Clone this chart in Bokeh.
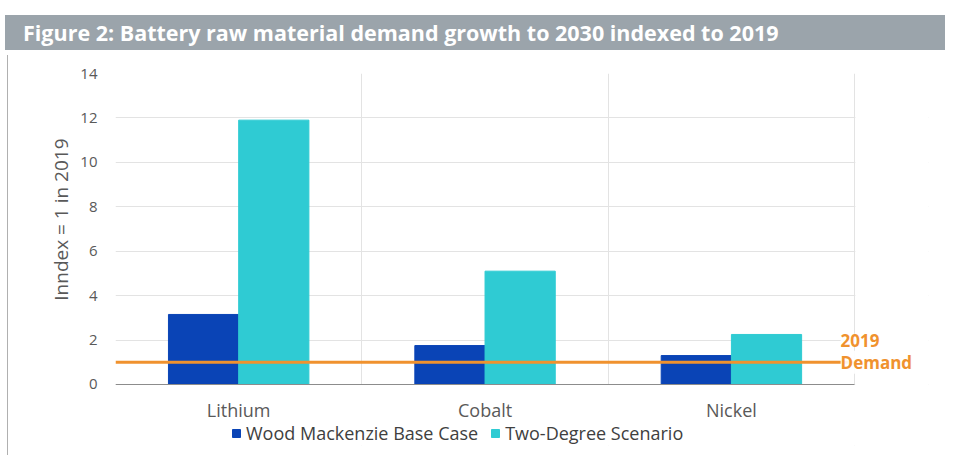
from bokeh.plotting import figure
from bokeh.models import (Range1d, Label, Legend, LegendItem, BoxAnnotation, Title,
                          FixedTicker, Div, ColumnDataSource)
from bokeh.embed import file_html
from bokeh.resources import INLINE

title_text = "Figure 2: Battery raw material demand growth to 2030 indexed to 2019"
y_title = "Inndex = 1 in 2019"
categories = ["Lithium", "Cobalt", "Nickel"]
base_case = [3.15, 1.75, 1.3]
two_degree = [11.9, 5.1, 2.25]
demand_2019 = 1.0
series_names = ["Wood Mackenzie Base Case", "Two-Degree Scenario"]
y_ticks = [0, 2, 4, 6, 8, 10, 12, 14]

BLUE = "#0A44B6"
CYAN = "#2FCBD3"
ORANGE = "#F0922E"
GREY_TXT = "#595959"
GRID = "#E3E3E3"
FONT = "Open Sans"

n = len(categories)
centers = [i + 0.5 for i in range(n)]
BAR_W = 0.285
src = ColumnDataSource(dict(
    x_base=[c - BAR_W / 2 for c in centers], x_two=[c + BAR_W / 2 for c in centers],
    base=base_case, two=two_degree))

header = Div(text=title_text, width=940, height=35,
             styles={"background-color": "#9BA4AB", "color": "white",
                     "font-family": FONT, "font-weight": "bold", "font-size": "21.5px",
                     "line-height": "35px", "padding-left": "18px",
                     "box-sizing": "border-box", "margin-top": "15px", "margin-left": "5px"})

p = figure(x_range=Range1d(0, n * 1.1), y_range=Range1d(-2.75, y_ticks[-1]),
           width=938, height=400, output_backend="svg", toolbar_location=None,
           min_border_left=107, min_border_right=18, min_border_top=18, min_border_bottom=10,
           styles={"margin-left": "7px", "border-left": "1px solid #B0B0B0"})
p.outline_line_color = None

# grids
p.ygrid.ticker = FixedTicker(ticks=y_ticks)
p.ygrid.grid_line_color = GRID
p.xgrid.ticker = FixedTicker(ticks=list(range(n + 1)))
p.xgrid.grid_line_color = GRID
# blank the grid outside the plotting region (right of last category, below zero)
p.add_layout(BoxAnnotation(left=n + 0.003, fill_color="white", fill_alpha=1,
                           line_color=None, level="underlay"))
p.add_layout(BoxAnnotation(top=0, fill_color="white", fill_alpha=1,
                           line_color=None, level="underlay"))

r1 = p.vbar(x="x_base", top="base", width=BAR_W, source=src, color=BLUE)
r2 = p.vbar(x="x_two", top="two", width=BAR_W, source=src, color=CYAN)

p.segment(x0=[0], x1=[n], y0=[demand_2019], y1=[demand_2019],
          line_color=ORANGE, line_width=3)

lbl_kw = dict(text_color=ORANGE, text_font=FONT, text_font_size="17px",
              text_font_style="bold", text_baseline="middle", text_align="left",
              background_fill_color="white", background_fill_alpha=0.9)
p.add_layout(Label(x=n, y=demand_2019, x_offset=-14, y_offset=22, text="2019", **lbl_kw))
p.add_layout(Label(x=n, y=demand_2019, x_offset=-14, y_offset=0, text="Demand", **lbl_kw))

# axes
p.yaxis.ticker = FixedTicker(ticks=y_ticks)
p.yaxis.bounds = (y_ticks[0], y_ticks[-1])
p.yaxis.axis_line_color = None
p.yaxis.major_tick_line_color = None
p.yaxis.minor_tick_line_color = None
p.yaxis.major_label_text_font = FONT
p.yaxis.major_label_text_font_size = "15px"
p.yaxis.major_label_text_color = GREY_TXT
p.yaxis.major_label_standoff = 12

p.add_layout(Title(text=y_title, align="right", offset=65, standoff=8,
                   text_font=FONT, text_font_size="19px", text_font_style="normal",
                   text_color=GREY_TXT), "left")

p.xaxis.fixed_location = 0
p.xaxis.bounds = (0, n)
p.xaxis.ticker = FixedTicker(ticks=centers)
p.xaxis.major_label_overrides = {c: name for c, name in zip(centers, categories)}
p.xaxis.axis_line_color = "#8C8C8C"
p.xaxis.major_tick_line_color = None
p.xaxis.minor_tick_line_color = None
p.xaxis.major_label_text_font = FONT
p.xaxis.major_label_text_font_size = "18px"
p.xaxis.major_label_text_color = GREY_TXT
p.xaxis.major_label_standoff = 8

legend = Legend(items=[LegendItem(label=series_names[0], renderers=[r1]),
                       LegendItem(label=series_names[1], renderers=[r2])],
                orientation="horizontal", location=(116, 0),
                label_text_font=FONT, label_text_font_size="18px", label_text_color="#404040",
                glyph_width=10, glyph_height=10, spacing=12, label_standoff=5,
                border_line_color=None, background_fill_alpha=0, padding=0, margin=0)
p.add_layout(legend, "center")

open("out.html", "w").write(file_html([header, p], INLINE))
